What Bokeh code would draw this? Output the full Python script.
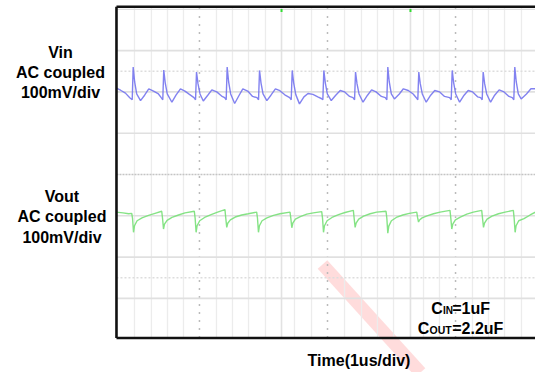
from bokeh.plotting import figure
from bokeh.models import Range1d, Label
from bokeh.embed import file_html
from bokeh.resources import INLINE

# ---- captured traces: time in ns, AC-coupled ripple in mV ----
VIN_T_NS = [
    0, 50, 110, 163, 193,
    205, 223, 248, 295, 345, 396, 455, 515, 549, 568,
    580, 598, 623, 680, 730, 785, 840, 895, 951, 970,
    982, 1000, 1025, 1065, 1120, 1170, 1230, 1290, 1327, 1346,
    1358, 1376, 1401, 1450, 1500, 1550, 1610, 1670, 1724, 1743,
    1755, 1773, 1798, 1845, 1895, 1950, 2005, 2065, 2125, 2144,
    2156, 2174, 2199, 2245, 2300, 2350, 2410, 2470, 2513, 2532,
    2544, 2562, 2587, 2635, 2690, 2745, 2800, 2860, 2902, 2921,
    2933, 2951, 2976, 3025, 3080, 3130, 3185, 3250, 3298, 3317,
    3329, 3347, 3372, 3410, 3470, 3520, 3580, 3640, 3678, 3697,
    3709, 3727, 3752, 3800, 3855, 3905, 3965, 4025, 4088, 4107,
    4119, 4137, 4162, 4210, 4265, 4315, 4370, 4430, 4468, 4487,
    4499, 4517, 4542, 4590, 4640, 4695, 4755, 4815, 4856, 4875,
    4887, 4905, 4930, 4965, 5030, 5085, 5141,
]
VIN_MV = [
    9, 4, -3, -14, -19,
    60, 24, -5, -21, -8, 7.5, 2, -5, -14, -19,
    53, 22, -5, -25, -8, 7.5, 2, -6, -14, -19,
    48, 20, -5, -22, -8, 5, 0, -10, -14, -19,
    60, 24, -5, -28, -10, 7.5, 2, -11, -14, -19,
    52, 22, -5, -21, -8, 7.5, 3, -7, -14, -19,
    52, 22, -6, -29, -12, -4, -6, -12, -16, -19,
    52, 22, -5, -21, -8, 3.4, 0, -11, -14, -19,
    48, 20, -5, -25, -8, 5, 0, -11, -14, -19,
    60, 24, -5, -17, -5, 7.5, 3.4, -5, -14, -19,
    48, 20, -5, -25, -8, 3.4, 0, -11, -14, -19,
    52, 22, -5, -25, -8, 3.4, 0, -12, -14, -19,
    48, 20, -5, -25, -8, 5, 0, -11, -14, -19,
    60, 24, -5, -17, -5, 7.5, 7.5,
]

VOUT_T_NS = [
    0, 80, 150, 187,
    197, 209, 221, 253, 313, 393, 473, 555,
    565, 577, 589, 621, 681, 761, 841, 955,
    965, 977, 989, 1021, 1081, 1161, 1241, 1331,
    1341, 1353, 1365, 1397, 1457, 1537, 1617, 1720,
    1730, 1742, 1754, 1786, 1846, 1926, 2006, 2129,
    2139, 2151, 2163, 2195, 2255, 2335, 2415, 2518,
    2528, 2540, 2552, 2584, 2644, 2724, 2804, 2906,
    2916, 2928, 2940, 2972, 3032, 3112, 3192, 3307,
    3317, 3329, 3341, 3373, 3433, 3513, 3593, 3684,
    3694, 3706, 3718, 3750, 3810, 3890, 3970, 4092,
    4102, 4114, 4126, 4158, 4218, 4298, 4378, 4481,
    4491, 4503, 4515, 4547, 4607, 4687, 4767, 4869,
    4879, 4891, 4903, 4935, 5000, 5075, 5141,
]
VOUT_MV = [
    9, 7, 5, 6,
    -6, -40, -24, -12, -5, 1, 6, 11,
    -6, -32, -20, -11, -4, 2, 7, 11,
    -6, -40, -24, -12, -4, 3, 9, 15,
    -6, -28, -18, -10, -3, 2, 5, 9,
    -6, -40, -24, -12, -5, 1, 5, 9,
    -6, -29, -18, -8, -2, 4, 7, 10,
    -6, -40, -24, -12, -4, 3, 8, 13,
    -6, -28, -18, -8, -1, 5, 9, 11,
    -6, -42, -25, -12, -4, 2, 6, 9,
    -4, -15, -10, -5, 0, 5, 9, 13,
    -6, -32, -20, -10, -3, 4, 9, 13,
    -6, -28, -18, -8, -1, 5, 9, 13,
    -6, -40, -24, -12, -7, 2, 9,
]

MV_PER_DIV = 100
VIN_POSITION_DIV = 2.0
VOUT_POSITION_DIV = -1.0

LEFT_LABELS_VIN = ["Vin", "AC coupled", "100mV/div"]
LEFT_LABELS_VOUT = ["Vout", "AC coupled", "100mV/div"]
TIME_LABEL = "Time(1us/div)"

# ---- graticule (ns / div) ----
MINOR_X_NS = [221, 429, 626, 822, 1227, 1423, 1620, 1828, 2184, 2393,
              2798, 3006, 3202, 3399, 3767, 3963, 4368, 4564, 4761, 4969]
DASHED_X_NS = [1018, 2589, 4160]
SOLID_X_NS = [2025, 3607]
SOLID_Y_DIV = [3, 2, 1, -1, -2, -3]
DOTTED_Y_DIV = [2.5, -2.5]

X0, X1 = -1423, 5141
Y0, Y1 = -4.794, 4.213
W, H = 535, 372
TOP_DIV, BOT_DIV = 4.06, -3.96


def sx(px):
    return X0 + px / W * (X1 - X0)


def sy(py):
    return Y1 - py / H * (Y1 - Y0)


p = figure(width=W, height=H, output_backend="svg", toolbar_location=None,
           x_range=Range1d(X0, X1), y_range=Range1d(Y0, Y1),
           x_axis_location=None, y_axis_location=None,
           min_border=0, min_border_left=0, min_border_right=0,
           min_border_top=0, min_border_bottom=0)
p.grid.visible = False
p.outline_line_color = None
p.background_fill_color = "white"
p.border_fill_color = "white"

# faint watermark stroke
p.line([sx(322), sx(420)], [sy(264), sy(372)], line_color="#ff8c8c",
       line_width=13, line_alpha=0.3)

# graticule
p.segment(x0=MINOR_X_NS, x1=MINOR_X_NS, y0=BOT_DIV, y1=TOP_DIV,
          line_color="#ececec", line_width=1.3)
p.segment(x0=SOLID_X_NS, x1=SOLID_X_NS, y0=BOT_DIV, y1=TOP_DIV,
          line_color="#e2e2e2", line_width=1.6)
p.segment(x0=DASHED_X_NS, x1=DASHED_X_NS, y0=BOT_DIV, y1=TOP_DIV,
          line_color="#bbbbbb", line_width=1.5, line_dash="2 6")
p.segment(x0=0, x1=X1, y0=SOLID_Y_DIV, y1=SOLID_Y_DIV,
          line_color="#e0e0e0", line_width=1.6)
p.segment(x0=0, x1=X1, y0=DOTTED_Y_DIV, y1=DOTTED_Y_DIV,
          line_color="#dddddd", line_width=1.3, line_dash="2 2")
p.segment(x0=0, x1=X1, y0=0, y1=0,
          line_color="#c4c4c4", line_width=1.5, line_dash="2 1")
p.segment(x0=0, x1=X1, y0=4.0, y1=4.0, line_color="#dddddd", line_width=1.2)

# traces
vin_y = [VIN_POSITION_DIV + v / MV_PER_DIV for v in VIN_MV]
vout_y = [VOUT_POSITION_DIV + v / MV_PER_DIV for v in VOUT_MV]
p.line(VIN_T_NS, vin_y, line_color="#7474ee", line_width=1.4, line_alpha=0.9)
p.line(VOUT_T_NS, vout_y, line_color="#78e078", line_width=1.4, line_alpha=0.9)

# trigger markers at the top edge
p.segment(x0=SOLID_X_NS, x1=SOLID_X_NS, y0=sy(11.5), y1=sy(8.5),
          line_color="#33dd33", line_width=2)

# black frame (left, top, bottom)
p.line([0, 0], [BOT_DIV, TOP_DIV], line_color="#111111", line_width=2.6)
p.line([0, X1], [TOP_DIV, TOP_DIV], line_color="#111111", line_width=2.4)
p.line([0, X1], [BOT_DIV, BOT_DIV], line_color="#111111", line_width=2.4)

FONT = "Liberation Sans"


def add_label(x, y, text, size, align="center", baseline="middle"):
    p.add_layout(Label(x=x, y=H - y, x_units="screen", y_units="screen",
                       text=text, text_font=FONT, text_font_size=f"{size}px",
                       text_font_style="bold", text_color="#000000",
                       text_align=align, text_baseline=baseline))


for i, t in enumerate(LEFT_LABELS_VIN):
    add_label(60, 51.5 + 20.3 * i, t, 16)
for i, t in enumerate(LEFT_LABELS_VOUT):
    add_label(61.5, 196 + 20.3 * i, t, 16)
add_label(358.5, 360, TIME_LABEL, 16, baseline="alphabetic")

# capacitor annotation with subscripts
add_label(430.7, 308.3, "C", 16, align="left", baseline="alphabetic")
add_label(442.4, 309.5, "IN", 10, align="left", baseline="alphabetic")
add_label(451.7, 308.3, "=1uF", 16, align="left", baseline="alphabetic")
add_label(417.3, 327.7, "C", 16, align="left", baseline="alphabetic")
add_label(429.0, 329.0, "OUT", 10.5, align="left", baseline="alphabetic")
add_label(451.7, 327.7, "=2.2uF", 16, align="left", baseline="alphabetic")

open("out.html", "w").write(file_html(p, INLINE))
